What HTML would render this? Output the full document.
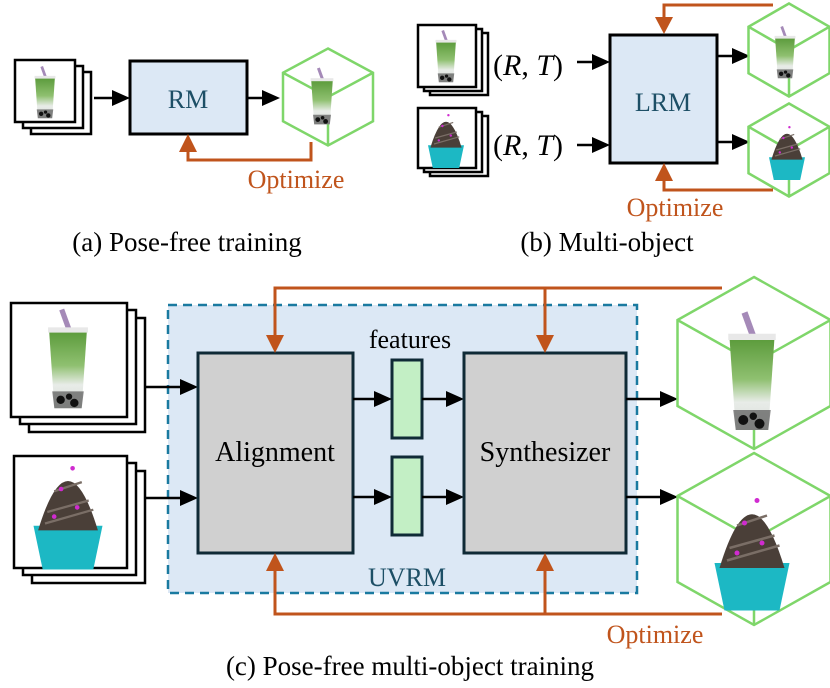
<!DOCTYPE html>
<html><head><meta charset="utf-8"><style>
html,body{margin:0;padding:0;background:#fff;}
svg{display:block;}
svg text{font-family:"Liberation Serif","DejaVu Serif","Times New Roman",serif;}
</style></head><body>
<svg width="830" height="688" viewBox="0 0 830 688" xmlns="http://www.w3.org/2000/svg" font-family="Liberation Serif, DejaVu Serif, serif">
<defs>
<linearGradient id="cg" x1="0" y1="0" x2="0" y2="1">
<stop offset="0" stop-color="#5a9a3a"/><stop offset="0.45" stop-color="#8fc070"/><stop offset="0.7" stop-color="#e8ece8"/><stop offset="1" stop-color="#d8dcd8"/></linearGradient>
<g id="cup">
<line x1="-6" y1="-50" x2="2" y2="-28" stroke="#a58ab8" stroke-width="5"/>
<path d="M-18,-30 L18,-30 L13,44 L-13,44 Z" fill="url(#cg)"/>
<rect x="-19" y="-33" width="38" height="5" fill="#e8e8e8"/>
<path d="M-15,28 L15,28 L13,44 L-13,44 Z" fill="#555" opacity="0.7"/>
<circle cx="-7" cy="36" r="4" fill="#111"/><circle cx="6" cy="39" r="4" fill="#111"/><circle cx="1" cy="33" r="3" fill="#111"/>
</g>
<g id="cake">
<path d="M-30,12 L30,12 L22,50 L-22,50 Z" fill="#1cb8c4"/>
<path d="M-26,16 Q0,-70 26,16 Z" fill="#4a3f38"/>
<path d="M-18,0 L18,-10 M-20,10 L22,-2 M-12,-18 L12,-26" stroke="#7a6e66" stroke-width="2"/>
<circle cx="-6" cy="-20" r="2" fill="#d02bd0"/><circle cx="8" cy="-4" r="2" fill="#d02bd0"/><circle cx="-12" cy="4" r="2" fill="#d02bd0"/><circle cx="4" cy="-38" r="2" fill="#d02bd0"/>
</g>
<g id="cube" fill="none" stroke="#7fd66a" stroke-width="2.5">
<path vector-effect="non-scaling-stroke" d="M0,-50 L45,-25 L45,25 L0,50 L-45,25 L-45,-25 Z M-45,-25 L0,0 L45,-25 M0,0 L0,50"/>
</g>
</defs>

<!-- (a) -->
<rect x="31" y="72" width="60" height="62" fill="#fff" stroke="#000" stroke-width="2.5"/>
<rect x="23" y="66" width="60" height="62" fill="#fff" stroke="#000" stroke-width="2.5"/>
<rect x="15" y="60" width="60" height="62" fill="#fff" stroke="#000" stroke-width="2.5"/>
<g transform="translate(45,94) scale(0.55)"><use href="#cup"/></g>
<line x1="94" y1="98" x2="118" y2="98" stroke="#000" stroke-width="2.5"/><path d="M112,90 L130,98 L112,106 Z" fill="#000"/>
<rect x="130" y="61" width="117" height="73" fill="#dce8f5" stroke="#000" stroke-width="3"/>
<text x="188" y="108" font-size="26" fill="#1d4f66" text-anchor="middle">RM</text>
<line x1="247" y1="98" x2="268" y2="98" stroke="#000" stroke-width="2.5"/><path d="M262,90 L280,98 L262,106 Z" fill="#000"/>
<g transform="translate(328,97) scale(1,0.97)"><use href="#cube"/></g>
<g transform="translate(322,98) scale(0.6)"><use href="#cup"/></g>
<path d="M311,142 L311,160 L188,160 L188,145" fill="none" stroke="#c0541c" stroke-width="3"/>
<path d="M179,152 L188,134 L197,152 Z" fill="#c0541c"/>
<text x="296" y="188" font-size="26" fill="#c0541c" text-anchor="middle">Optimize</text>
<text x="187" y="251" font-size="27" fill="#000" text-anchor="middle">(a) Pose-free training</text>

<!-- (b) -->
<rect x="430" y="33" width="58" height="62" fill="#fff" stroke="#000" stroke-width="2.5"/>
<rect x="424" y="29" width="58" height="62" fill="#fff" stroke="#000" stroke-width="2.5"/>
<rect x="418" y="25" width="58" height="62" fill="#fff" stroke="#000" stroke-width="2.5"/>
<g transform="translate(446,58) scale(0.55)"><use href="#cup"/></g>
<rect x="430" y="116" width="58" height="60" fill="#fff" stroke="#000" stroke-width="2.5"/>
<rect x="424" y="112" width="58" height="60" fill="#fff" stroke="#000" stroke-width="2.5"/>
<rect x="418" y="108" width="58" height="60" fill="#fff" stroke="#000" stroke-width="2.5"/>
<g transform="translate(446,138) scale(0.6)"><use href="#cake"/></g>
<text x="493" y="75" font-size="30" fill="#000">(<tspan font-style="italic">R</tspan>, <tspan font-style="italic">T</tspan>)</text>
<text x="493" y="155" font-size="30" fill="#000">(<tspan font-style="italic">R</tspan>, <tspan font-style="italic">T</tspan>)</text>
<line x1="577" y1="62" x2="598" y2="62" stroke="#000" stroke-width="2.5"/><path d="M592,54 L610,62 L592,70 Z" fill="#000"/>
<line x1="577" y1="145" x2="598" y2="145" stroke="#000" stroke-width="2.5"/><path d="M592,137 L610,145 L592,153 Z" fill="#000"/>
<rect x="610" y="35" width="107" height="128" fill="#dce8f5" stroke="#000" stroke-width="3"/>
<text x="663" y="111" font-size="26" fill="#1d4f66" text-anchor="middle">LRM</text>
<line x1="717" y1="56" x2="738" y2="56" stroke="#000" stroke-width="2.5"/><path d="M732,48 L750,56 L732,64 Z" fill="#000"/>
<line x1="717" y1="142" x2="738" y2="142" stroke="#000" stroke-width="2.5"/><path d="M732,134 L750,142 L732,150 Z" fill="#000"/>
<g transform="translate(789,50) scale(0.9,0.93)"><use href="#cube"/></g>
<g transform="translate(785,54) scale(0.55)"><use href="#cup"/></g>
<g transform="translate(789,150) scale(0.9,0.93)"><use href="#cube"/></g>
<g transform="translate(787,150) scale(0.6)"><use href="#cake"/></g>
<path d="M773,5 L664,5 L664,22" fill="none" stroke="#c0541c" stroke-width="3"/>
<path d="M655,17 L664,34 L673,17 Z" fill="#c0541c"/>
<path d="M773,190 L664,190 L664,176" fill="none" stroke="#c0541c" stroke-width="3"/>
<path d="M655,181 L664,163 L673,181 Z" fill="#c0541c"/>
<text x="675" y="216" font-size="26" fill="#c0541c" text-anchor="middle">Optimize</text>
<text x="607" y="251" font-size="27" fill="#000" text-anchor="middle">(b) Multi-object</text>

<!-- (c) -->
<rect x="168" y="305" width="469" height="288" fill="#dce8f5" stroke="#1a7aa0" stroke-width="2.5" stroke-dasharray="9,6"/>
<rect x="29" y="318" width="116" height="114" fill="#fff" stroke="#000" stroke-width="2.5"/>
<rect x="20" y="310" width="116" height="114" fill="#fff" stroke="#000" stroke-width="2.5"/>
<rect x="11" y="303" width="116" height="114" fill="#fff" stroke="#000" stroke-width="2.5"/>
<g transform="translate(68,362) scale(1.05)"><use href="#cup"/></g>
<rect x="32" y="471" width="113" height="112" fill="#fff" stroke="#000" stroke-width="2.5"/>
<rect x="23" y="463" width="113" height="112" fill="#fff" stroke="#000" stroke-width="2.5"/>
<rect x="14" y="456" width="113" height="112" fill="#fff" stroke="#000" stroke-width="2.5"/>
<g transform="translate(68,512) scale(1.15)"><use href="#cake"/></g>
<line x1="145" y1="387" x2="186" y2="387" stroke="#000" stroke-width="2.5"/><path d="M180,379 L198,387 L180,395 Z" fill="#000"/>
<line x1="145" y1="498" x2="186" y2="498" stroke="#000" stroke-width="2.5"/><path d="M180,490 L198,498 L180,506 Z" fill="#000"/>
<rect x="198" y="353" width="155" height="200" fill="#d0d0d0" stroke="#0f2a36" stroke-width="3"/>
<text x="275" y="461" font-size="28" fill="#000" text-anchor="middle">Alignment</text>
<rect x="392" y="360" width="30" height="78" fill="#c3efc5" stroke="#0f2a36" stroke-width="3"/>
<rect x="392" y="457" width="30" height="78" fill="#c3efc5" stroke="#0f2a36" stroke-width="3"/>
<text x="410" y="348" font-size="26" fill="#000" text-anchor="middle">features</text>
<line x1="353" y1="399" x2="380" y2="399" stroke="#000" stroke-width="2.5"/><path d="M374,391 L392,399 L374,407 Z" fill="#000"/>
<line x1="422" y1="399" x2="452" y2="399" stroke="#000" stroke-width="2.5"/><path d="M446,391 L464,399 L446,407 Z" fill="#000"/>
<line x1="353" y1="497" x2="380" y2="497" stroke="#000" stroke-width="2.5"/><path d="M374,489 L392,497 L374,505 Z" fill="#000"/>
<line x1="422" y1="497" x2="452" y2="497" stroke="#000" stroke-width="2.5"/><path d="M446,489 L464,497 L446,505 Z" fill="#000"/>
<rect x="464" y="353" width="162" height="200" fill="#d0d0d0" stroke="#0f2a36" stroke-width="3"/>
<text x="545" y="461" font-size="28" fill="#000" text-anchor="middle">Synthesizer</text>
<text x="407" y="586" font-size="26" fill="#1d4f66" text-anchor="middle">UVRM</text>
<line x1="626" y1="399" x2="666" y2="399" stroke="#000" stroke-width="2.5"/><path d="M660,391 L678,399 L660,407 Z" fill="#000"/>
<line x1="626" y1="497" x2="666" y2="497" stroke="#000" stroke-width="2.5"/><path d="M660,489 L678,497 L660,505 Z" fill="#000"/>
<g transform="translate(754,363) scale(1.7,1.72)"><use href="#cube"/></g>
<g transform="translate(752,375) scale(1.25)"><use href="#cup"/></g>
<g transform="translate(754,539) scale(1.7,1.72)"><use href="#cube"/></g>
<g transform="translate(752,548) scale(1.25)"><use href="#cake"/></g>
<path d="M722,288 L275,288 L275,338" fill="none" stroke="#c0541c" stroke-width="3"/>
<path d="M545,288 L545,338" fill="none" stroke="#c0541c" stroke-width="3"/>
<path d="M266,335 L275,353 L284,335 Z" fill="#c0541c"/>
<path d="M536,335 L545,353 L554,335 Z" fill="#c0541c"/>
<path d="M722,614 L275,614 L275,568" fill="none" stroke="#c0541c" stroke-width="3"/>
<path d="M545,614 L545,568" fill="none" stroke="#c0541c" stroke-width="3"/>
<path d="M266,571 L275,553 L284,571 Z" fill="#c0541c"/>
<path d="M536,571 L545,553 L554,571 Z" fill="#c0541c"/>
<text x="655" y="643" font-size="26" fill="#c0541c" text-anchor="middle">Optimize</text>
<text x="410" y="675" font-size="27" fill="#000" text-anchor="middle">(c) Pose-free multi-object training</text>
</svg>
</body></html>
